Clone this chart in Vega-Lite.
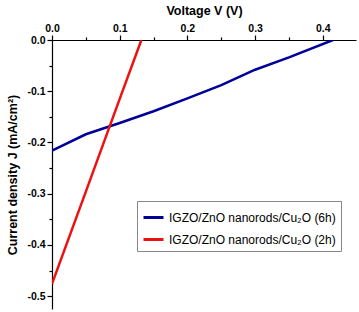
{
  "$schema": "https://vega.github.io/schema/vega-lite/v6.json",
  "width": 304,
  "height": 269,
  "autosize": {"type": "none"},
  "padding": {"left": 52, "top": 40, "right": 3, "bottom": 3},
  "background": "white",
  "config": {"view": {"stroke": null}, "font": "Liberation Sans"},
  "data": {"values": [
    {"v": 0.0, "j": -0.216, "s": "IGZO/ZnO nanorods/Cu₂O (6h)"},
    {"v": 0.05, "j": -0.184, "s": "IGZO/ZnO nanorods/Cu₂O (6h)"},
    {"v": 0.1, "j": -0.162, "s": "IGZO/ZnO nanorods/Cu₂O (6h)"},
    {"v": 0.15, "j": -0.139, "s": "IGZO/ZnO nanorods/Cu₂O (6h)"},
    {"v": 0.2, "j": -0.114, "s": "IGZO/ZnO nanorods/Cu₂O (6h)"},
    {"v": 0.25, "j": -0.088, "s": "IGZO/ZnO nanorods/Cu₂O (6h)"},
    {"v": 0.3, "j": -0.058, "s": "IGZO/ZnO nanorods/Cu₂O (6h)"},
    {"v": 0.35, "j": -0.034, "s": "IGZO/ZnO nanorods/Cu₂O (6h)"},
    {"v": 0.415, "j": 0.0, "s": "IGZO/ZnO nanorods/Cu₂O (6h)"},
    {"v": 0.0, "j": -0.476, "s": "IGZO/ZnO nanorods/Cu₂O (2h)"},
    {"v": 0.05, "j": -0.296, "s": "IGZO/ZnO nanorods/Cu₂O (2h)"},
    {"v": 0.1, "j": -0.115, "s": "IGZO/ZnO nanorods/Cu₂O (2h)"},
    {"v": 0.132, "j": 0.0, "s": "IGZO/ZnO nanorods/Cu₂O (2h)"}
  ]},
  "mark": {"type": "line", "strokeWidth": 2.5, "clip": true},
  "encoding": {
    "x": {
      "field": "v", "type": "quantitative",
      "scale": {"domain": [0, 0.449], "nice": false, "zero": false},
      "axis": {
        "orient": "top", "title": "Voltage V (V)", "titleFontSize": 12.5, "titleFontWeight": "bold",
        "titlePadding": 6,
        "values": [0, 0.05, 0.1, 0.15, 0.2, 0.25, 0.3, 0.35, 0.4, 0.45],
        "labelExpr": "abs(datum.value*10 - round(datum.value*10)) < 0.001 ? format(datum.value, '.1f') : ''",
        "tickSize": {"condition": {"test": "abs(datum.value*10 - round(datum.value*10)) < 0.001", "value": 5}, "value": 3},
        "domainColor": "black", "tickColor": "black", "domainWidth": 1.2, "tickWidth": 1.2,
        "labelFontSize": 10.5, "labelFontWeight": "bold", "labelColor": "black", "labelPadding": 2,
        "grid": false, "labelFlush": false
      }
    },
    "y": {
      "field": "j", "type": "quantitative",
      "scale": {"domain": [-0.525, 0], "nice": false, "zero": false},
      "axis": {
        "title": "Current density J (mA/cm²)", "titleFontSize": 12.5, "titleFontWeight": "bold",
        "titlePadding": 7,
        "values": [0, -0.05, -0.1, -0.15, -0.2, -0.25, -0.3, -0.35, -0.4, -0.45, -0.5],
        "labelExpr": "abs(datum.value*10 - round(datum.value*10)) < 0.001 ? replace(format(datum.value, '.1f'), '\u2212', '-') : ''",
        "tickSize": {"condition": {"test": "abs(datum.value*10 - round(datum.value*10)) < 0.001", "value": 5}, "value": 3},
        "domainColor": "black", "tickColor": "black", "domainWidth": 1.2, "tickWidth": 1.2,
        "labelFontSize": 10.5, "labelFontWeight": "bold", "labelColor": "black", "labelPadding": 2,
        "grid": false, "labelFlush": false
      }
    },
    "color": {
      "field": "s", "type": "nominal",
      "scale": {"domain": ["IGZO/ZnO nanorods/Cu₂O (6h)", "IGZO/ZnO nanorods/Cu₂O (2h)"], "range": ["#000099", "#ee1111"]},
      "legend": {
        "orient": "none", "legendX": 85, "legendY": 161, "title": null,
        "strokeColor": "#888888", "padding": 5, "fillColor": "white",
        "symbolType": "stroke", "symbolStrokeWidth": 3, "symbolSize": 400,
        "labelFontSize": 12, "labelColor": "black", "rowPadding": 4, "labelLimit": 300
      }
    }
  }
}
